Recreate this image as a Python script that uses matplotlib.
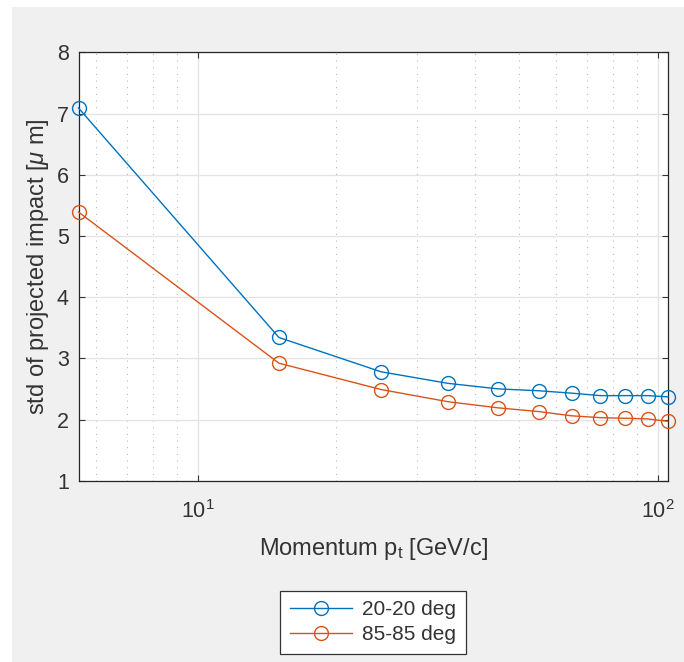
import numpy as np
import matplotlib
matplotlib.use("Agg")
import matplotlib.pyplot as plt
from matplotlib.patches import Rectangle

# momentum values (GeV/c) and std of projected impact (um)
momentum = [5.5, 15, 25, 35, 45, 55, 65, 75, 85, 95, 105]
std_20deg = [7.09, 3.34, 2.78, 2.59, 2.50, 2.47, 2.43, 2.39, 2.39, 2.39, 2.37]
std_85deg = [5.39, 2.92, 2.49, 2.29, 2.19, 2.13, 2.06, 2.03, 2.02, 2.01, 1.97]
labels = ["20-20 deg", "85-85 deg"]

plt.rcParams['font.family'] = ['Liberation Sans', 'DejaVu Sans']
plt.rcParams['mathtext.fontset'] = 'custom'
plt.rcParams['mathtext.rm'] = 'Liberation Sans'
plt.rcParams['mathtext.it'] = 'Liberation Sans:italic'

fig = plt.figure(figsize=(6.84, 6.62), dpi=100, facecolor='white')
# grey figure window background
fig.patches.append(Rectangle((12/684, 0), 1, 1 - 7/662, transform=fig.transFigure,
                             facecolor='#f0f0f0', edgecolor='none', zorder=-10))

ax = fig.add_axes([78.5/684, 1 - 480.7/662, (667.7-78.5)/684, (480.7-52.3)/662])
ax.set_facecolor('white')

ax.plot(momentum, std_20deg, '-o', color='#0072BD', lw=1.0, markersize=10,
        markerfacecolor='none', markeredgewidth=1.0, label=labels[0], clip_on=False, zorder=3)
ax.plot(momentum, std_85deg, '-o', color='#D95319', lw=1.0, markersize=10,
        markerfacecolor='none', markeredgewidth=1.0, label=labels[1], clip_on=False, zorder=3)

ax.set_xscale('log')
ax.set_xlim(momentum[0], momentum[-1])
ax.set_ylim(1, 8)
ax.set_yticks(range(1, 9))
ax.xaxis.set_minor_locator(matplotlib.ticker.LogLocator(base=10, subs=np.arange(2, 10)))
ax.xaxis.set_minor_formatter(matplotlib.ticker.NullFormatter())

ax.grid(True, which='major', color='#e3e3e3', lw=0.9)
ax.grid(True, which='minor', axis='x', color='#a8a8a8', lw=0.8, linestyle=(0, (0.8, 5.2)))
ax.set_axisbelow(True)

for s in ax.spines.values():
    s.set_color('#262626')
    s.set_linewidth(0.9)
ax.tick_params(which='major', direction='in', length=4, width=0.8, top=True, right=True,
               colors='#333333', labelsize=15.5)
ax.tick_params(axis='y', pad=7)
ax.tick_params(axis='x', pad=14)
ax.tick_params(which='minor', direction='in', length=0, top=True, right=True)

ax.set_xlabel(r'Momentum p$_\mathregular{t}$ [GeV/c]', fontsize=17, color='#333333', labelpad=9)
ax.set_ylabel(r'std of projected impact [$\mathit{\mu}$ m]', fontsize=17, color='#333333', labelpad=4)

leg = ax.legend(loc='center', bbox_to_anchor=(373/684, 1 - 622/662), bbox_transform=fig.transFigure,
                fancybox=False, framealpha=1, edgecolor='#333333', fontsize=15,
                handlelength=3.0, handletextpad=0.5, borderpad=0.45, labelspacing=0.3)
leg.get_frame().set_linewidth(0.9)
for t in leg.get_texts():
    t.set_color('#333333')

plt.savefig("out.png", dpi=100, facecolor=fig.get_facecolor())
